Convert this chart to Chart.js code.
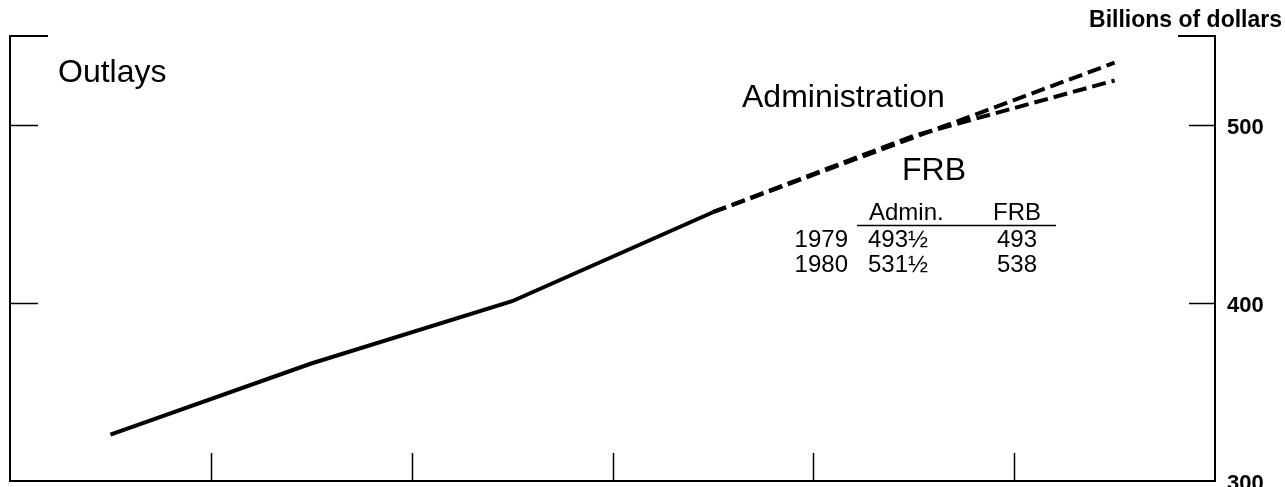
<!DOCTYPE html>
<html>
<head>
<meta charset="utf-8">
<script src="https://cdn.jsdelivr.net/npm/chart.js@4/dist/chart.umd.min.js"></script>
<style>
  html, body { margin: 0; padding: 0; background: #fff; }
  #wrap { width: 1285px; height: 487px; position: relative; }
</style>
</head>
<body>
<div id="wrap"><canvas id="myChart" width="1285" height="487"></canvas></div>
<script>
// fiscal years, plotted at the middle of each year band
const years = [1975, 1976, 1977, 1978, 1979, 1980];
const outlays = [326, 366, 401, 451, null, null];
const adminProj = [null, null, null, 451, 494, 525];
const frbProj = [null, null, null, 451, 493, 535];

// year boundaries on the bottom axis, and value ticks on the side axes
const xTicks = [1975.5, 1976.5, 1977.5, 1978.5, 1979.5];
const yTicks = [300, 400, 500];

// small table inside the chart
const tableYears = ['1979', '1980'];
const tableAdmin = ['493½', '531½'];
const tableFrb = ['493', '538'];

const FONT = '"Liberation Sans", Arial, Helvetica, sans-serif';

function pts(vals) {
  return years.map((y, i) => ({ x: y, y: vals[i] }));
}

// frame with open top, inward ticks, axis labels and notes
const framePlugin = {
  id: 'frame',
  afterDraw(chart) {
    const ctx = chart.ctx;
    const a = chart.chartArea;
    const xs = chart.scales.x;
    const ys = chart.scales.y;
    ctx.save();
    ctx.strokeStyle = '#000';
    ctx.lineCap = 'square';

    // frame
    ctx.lineWidth = 2;
    ctx.beginPath();
    ctx.moveTo(a.left + 37, a.top);
    ctx.lineTo(a.left, a.top);
    ctx.lineTo(a.left, a.bottom);
    ctx.lineTo(a.right, a.bottom);
    ctx.lineTo(a.right, a.top);
    ctx.lineTo(a.right - 36, a.top);
    ctx.stroke();

    // ticks
    ctx.lineWidth = 1.5;
    ctx.lineCap = 'butt';
    ctx.beginPath();
    xTicks.forEach(v => {
      const px = Math.round(xs.getPixelForValue(v)) + 0.5;
      ctx.moveTo(px, a.bottom);
      ctx.lineTo(px, a.bottom - 28);
    });
    yTicks.slice(1).forEach(v => {
      const py = Math.round(ys.getPixelForValue(v)) + 0.5;
      ctx.moveTo(a.left, py);
      ctx.lineTo(a.left + 28, py);
      ctx.moveTo(a.right, py);
      ctx.lineTo(a.right - 26, py);
    });
    ctx.stroke();

    ctx.fillStyle = '#000';

    // right axis values
    ctx.font = 'bold 22px ' + FONT;
    ctx.textAlign = 'left';
    ctx.textBaseline = 'middle';
    yTicks.forEach(v => {
      ctx.fillText(String(v), a.right + 12, ys.getPixelForValue(v) + 3);
    });

    ctx.textBaseline = 'alphabetic';
    ctx.font = 'bold 23px ' + FONT;
    ctx.textAlign = 'right';
    ctx.fillText('Billions of dollars', 1282, 27);

    ctx.font = '32px ' + FONT;
    ctx.textAlign = 'left';
    ctx.fillText('Outlays', 58, 82);
    ctx.fillText('Administration', 742, 107);
    ctx.fillText('FRB', 902, 180);

    // table
    ctx.font = '24px ' + FONT;
    ctx.fillText('Admin.', 869, 220);
    ctx.textAlign = 'center';
    ctx.fillText('FRB', 1017, 220);
    ctx.lineWidth = 1.5;
    ctx.beginPath();
    ctx.moveTo(857, 225.5);
    ctx.lineTo(1056, 225.5);
    ctx.stroke();
    tableYears.forEach((yr, i) => {
      const ty = 247 + i * 25;
      ctx.textAlign = 'right';
      ctx.fillText(yr, 848, ty);
      ctx.textAlign = 'left';
      ctx.fillText(tableAdmin[i], 868, ty);
      ctx.textAlign = 'center';
      ctx.fillText(tableFrb[i], 1017, ty);
    });
    ctx.restore();
  }
};

const ctx = document.getElementById('myChart').getContext('2d');
const myChart = new Chart(ctx, {
  type: 'line',
  data: {
    datasets: [
      {
        label: 'Outlays',
        data: pts(outlays),
        borderColor: '#000',
        borderWidth: 4,
        pointRadius: 0,
        tension: 0,
        fill: false
      },
      {
        label: 'Administration',
        data: pts(adminProj),
        borderColor: '#000',
        borderWidth: 4,
        borderDash: [14, 6],
        pointRadius: 0,
        tension: 0,
        fill: false
      },
      {
        label: 'FRB',
        data: pts(frbProj),
        borderColor: '#000',
        borderWidth: 4,
        borderDash: [14, 6],
        pointRadius: 0,
        tension: 0,
        fill: false
      }
    ]
  },
  options: {
    responsive: false,
    animation: false,
    layout: { padding: { left: 10, top: 36, bottom: 6, right: 70 } },
    plugins: {
      legend: { display: false },
      tooltip: { enabled: false }
    },
    scales: {
      x: {
        type: 'linear',
        min: 1974.5,
        max: 1980.5,
        display: false
      },
      y: {
        min: 300,
        max: 550,
        display: false
      }
    }
  },
  plugins: [framePlugin]
});
</script>
</body>
</html>
